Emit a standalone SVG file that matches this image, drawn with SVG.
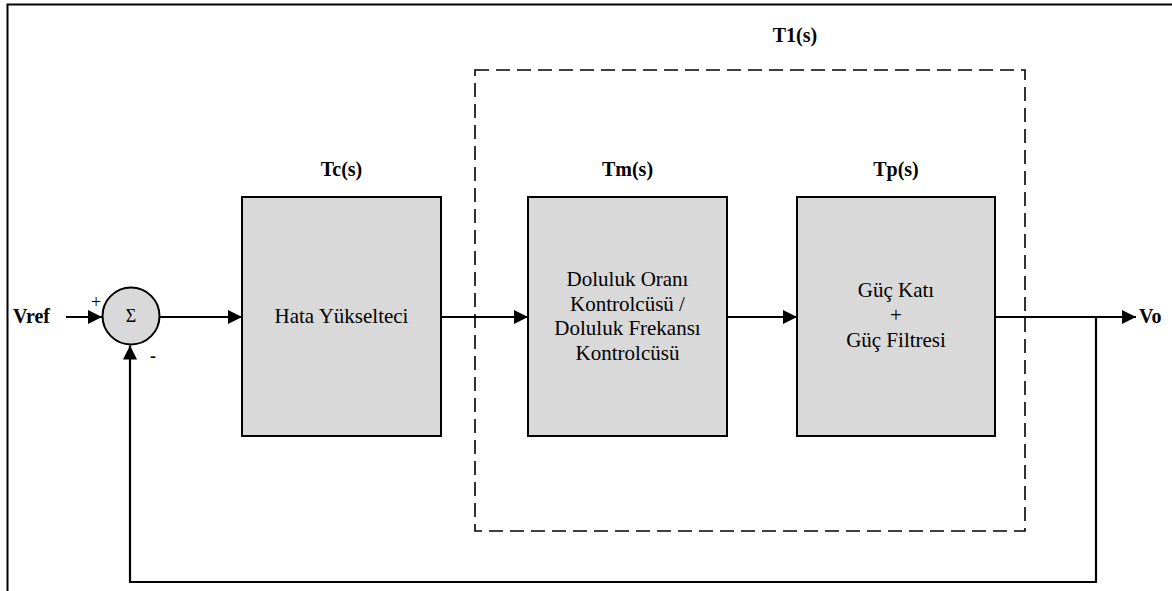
<svg xmlns="http://www.w3.org/2000/svg" width="1172" height="591" viewBox="0 0 1172 591">
<defs>
<marker id="arr" markerWidth="14" markerHeight="14" refX="14" refY="7" orient="auto" markerUnits="userSpaceOnUse">
<path d="M0,0 L14,7 L0,14 Z" fill="#000"/>
</marker>
<style>
.blk{fill:#d9d9d9;stroke:#000;stroke-width:2}
.ln{fill:none;stroke:#000;stroke-width:2}
.arr{fill:none;stroke:#000;stroke-width:2.2;marker-end:url(#arr)}
.lbl{font-family:'Liberation Serif','Times New Roman',serif;font-weight:bold;font-size:20px;fill:#000}
.txt{font-family:'Liberation Serif','Times New Roman',serif;font-size:21px;fill:#000}
.sm{font-family:'Liberation Serif','Times New Roman',serif;font-size:18px;fill:#000}
.mid{text-anchor:middle}
</style>
</defs>
<rect width="1172" height="591" fill="#fff"/>
<path class="ln" d="M7.5,591 V4.5 H1172"/>
<rect id="t1box" x="475" y="70" width="550" height="461" fill="none" stroke="#000" stroke-width="1.6" stroke-dasharray="14,7"/>
<text class="lbl mid" x="795" y="42">T1(s)</text>
<g id="connectors">
<line class="arr" x1="66" y1="317" x2="102" y2="317"/>
<line class="arr" x1="159" y1="317" x2="242" y2="317"/>
<line class="arr" x1="441" y1="317" x2="528" y2="317"/>
<line class="arr" x1="727" y1="317" x2="797" y2="317"/>
<line class="arr" x1="995" y1="317" x2="1136" y2="317"/>
<path class="arr" d="M1096,317 V582 H130 V345.5"/>
</g>
<g id="sum">
<circle cx="131" cy="316" r="28.5" fill="#d9d9d9" stroke="#000" stroke-width="2"/>
<text class="sm mid" x="131" y="322">Σ</text>
<text class="sm mid" x="96" y="308">+</text>
<text class="sm mid" x="153" y="362" font-weight="bold">-</text>
</g>
<g id="vref"><text class="lbl" x="13" y="323">Vref</text></g>
<g id="vo"><text class="lbl" x="1139" y="323">Vo</text></g>
<g id="tc">
<text class="lbl mid" x="341.5" y="176">Tc(s)</text>
<rect class="blk" x="242" y="197" width="199" height="239"/>
<text class="txt mid" x="341.5" y="323">Hata Yükselteci</text>
</g>
<g id="tm">
<text class="lbl mid" x="627.5" y="176">Tm(s)</text>
<rect class="blk" x="528" y="197" width="199" height="239"/>
<text class="txt mid" x="627.5" y="286">Doluluk Oranı</text>
<text class="txt mid" x="627.5" y="311">Kontrolcüsü /</text>
<text class="txt mid" x="627.5" y="335">Doluluk Frekansı</text>
<text class="txt mid" x="627.5" y="360">Kontrolcüsü</text>
</g>
<g id="tp">
<text class="lbl mid" x="896" y="176">Tp(s)</text>
<rect class="blk" x="797" y="197" width="198" height="239"/>
<text class="txt mid" x="896" y="297">Güç Katı</text>
<text class="txt mid" x="896" y="322">+</text>
<text class="txt mid" x="896" y="347">Güç Filtresi</text>
</g>
</svg>
